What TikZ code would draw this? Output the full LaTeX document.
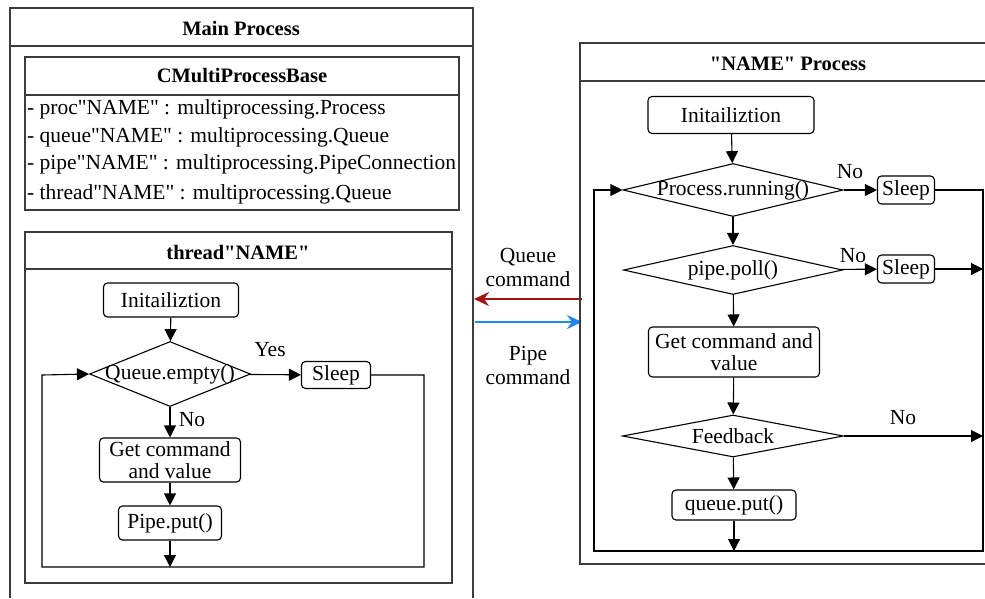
\documentclass[tikz,border=0pt]{standalone}
\usepackage{fontspec}
\setmainfont{Liberation Serif}[Ligatures=TeXOff]
\usetikzlibrary{shapes.geometric,arrows.meta}
\definecolor{qred}{RGB}{165,20,20}
\definecolor{pblue}{RGB}{30,135,245}
\definecolor{framec}{RGB}{60,60,60}
\begin{document}
\begin{tikzpicture}[x=1pt,y=-1pt,
  every node/.style={font=\fontsize{21.5}{24}\selectfont},
  frame/.style={draw=framec, line width=1.3pt},
  ttl/.style={font=\fontsize{20.5}{22}\selectfont\bfseries},
  rbox/.style={draw, line width=1.1pt, rounded corners=4pt, inner sep=0pt, align=center},
  dia/.style={draw, diamond, line width=1.1pt, inner sep=0pt},
  flow/.style={line width=1.1pt, -{Triangle[length=12pt,width=12pt]}},
  cmd/.style={line width=2.4pt, -{Stealth[length=15pt,width=14pt]}},
]
\useasboundingbox (0,0) rectangle (985,598);

% ---------- Main Process ----------
\draw[frame] (10,598) -- (10,8) -- (473,8) -- (473,598);
\draw[frame] (10,46) -- (473,46);
\node[ttl] (mainttl) at (241,28) {Main Process};

% CMultiProcessBase
\draw[frame] (25,57) rectangle (459,210);
\draw[frame] (25,95) -- (459,95);
\node[ttl] (cmpbttl) at (242,76) {CMultiProcessBase};
\node[anchor=west, inner sep=0pt] (a1) at (27,109) {- proc"NAME" : multiprocessing.Process};
\node[anchor=west, inner sep=0pt] (a2) at (27,137) {- queue"NAME" : multiprocessing.Queue};
\node[anchor=west, inner sep=0pt] (a3) at (27,164) {- pipe"NAME" : multiprocessing.PipeConnection};
\node[anchor=west, inner sep=0pt] (a4) at (27,194) {- thread"NAME" : multiprocessing.Queue};

% thread"NAME"
\draw[frame] (25,232) rectangle (452,583);
\draw[frame] (25,269) -- (452,269);
\node[ttl] (thttl) at (238,252) {thread"NAME"};

\node[rbox, minimum width=135pt, minimum height=34pt] (init1) at (171,300) {Initailiztion};
\node[dia, minimum width=161pt, minimum height=65pt] (d1) at (170,374) {};
\node (d1t) at (d1) {Queue.empty()};
\node[rbox, minimum width=69pt, minimum height=27pt] (sleep1) at (336,375) {Sleep};
\node[rbox, minimum width=141pt, minimum height=44pt, font=\fontsize{21.5}{22}\selectfont] (get1) at (170,460) {Get command\\and value};
\node[rbox, minimum width=103pt, minimum height=34pt] (put1) at (170,523) {Pipe.put()};
\coordinate (bot1) at (170,567);
\coordinate (r1a) at (424,375);
\coordinate (r1b) at (424,567);
\coordinate (l1b) at (42,567);
\coordinate (l1a) at (42,375);

\draw[flow] (init1) -- (d1);
\draw[flow] (d1) -- (sleep1);
\draw[flow] (d1) -- (get1);
\draw[flow] (get1) -- (put1);
\draw[flow] (put1) -- (bot1);
\draw[flow] (sleep1.east) -- (r1a) -- (r1b) -- (l1b) -- (l1a) -- (d1.west);
\node (yes1) at (270,350) {Yes};
\node (no1) at (192,420) {No};

% ---------- middle arrows ----------
\coordinate (qR) at (582,299);
\coordinate (qL) at (474,299);
\coordinate (pL) at (475,322);
\coordinate (pR) at (582,322);
\draw[cmd, qred] (qR) -- (qL);
\draw[cmd, pblue] (pL) -- (pR);
\node[align=center, font=\fontsize{21.5}{24}\selectfont] (qcmd) at (528,267) {Queue\\command};
\node[align=center, font=\fontsize{21.5}{24}\selectfont] (pcmd) at (528,365) {Pipe\\command};

% ---------- "NAME" Process ----------
\draw[frame] (985,43) -- (580,43) -- (580,564) -- (985,564);
\draw[frame] (580,81) -- (985,81);
\node[ttl] (npttl) at (788,64) {"NAME" Process};

\node[rbox, minimum width=166pt, minimum height=37pt] (init2) at (731,115) {Initailiztion};
\node[dia, minimum width=220pt, minimum height=53pt] (d2) at (733,190) {};
\node (d2t) at (d2) {Process.running()};
\node[rbox, minimum width=57pt, minimum height=28pt] (sleep2) at (906,190) {Sleep};
\node[dia, minimum width=219pt, minimum height=49pt] (d3) at (733,270) {};
\node (d3t) at (d3) {pipe.poll()};
\node[rbox, minimum width=57pt, minimum height=28pt] (sleep3) at (906,269) {Sleep};
\node[rbox, minimum width=171pt, minimum height=50pt, font=\fontsize{21.5}{22}\selectfont] (get2) at (734,352) {Get command and\\value};
\node[dia, minimum width=221pt, minimum height=42pt] (d4) at (733,436) {};
\node (d4t) at (d4) {Feedback};
\node[rbox, minimum width=124pt, minimum height=30pt] (put2) at (734,505) {queue.put()};

\coordinate (r2a) at (983,190);
\coordinate (r2b) at (983,551);
\coordinate (l2b) at (594,551);
\coordinate (l2a) at (594,190);
\coordinate (bot2) at (734,551);
\coordinate (s3e) at (983,269);
\coordinate (fbe) at (983,436);

\draw[flow] (init2) -- (d2);
\draw[flow] (d2) -- (sleep2);
\draw[flow] (d2) -- (d3);
\draw[flow] (d3) -- (sleep3);
\draw[flow] (d3) -- (get2);
\draw[flow] (get2) -- (d4);
\draw[flow] (d4) -- (put2);
\draw[flow] (put2) -- (bot2);
\draw[flow] (sleep3.east) -- (s3e);
\draw[flow] (d4.east) -- (fbe);
\draw[flow] (sleep2.east) -- (r2a) -- (r2b) -- (l2b) -- (l2a) -- (d2.west);
\node (no2) at (850,172) {No};
\node (no3) at (853,256) {No};
\node (no4) at (903,418) {No};
\end{tikzpicture}
\end{document}
